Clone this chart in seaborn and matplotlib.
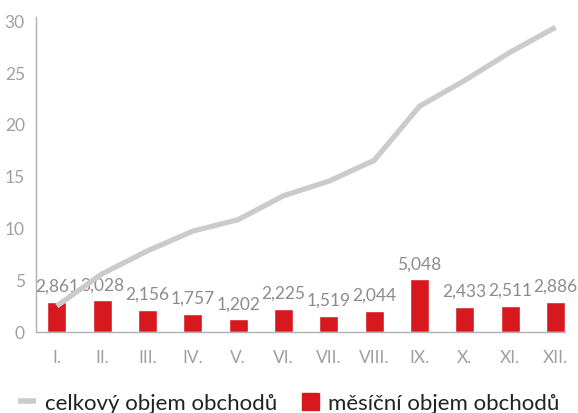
import matplotlib
matplotlib.use('Agg')
import matplotlib.pyplot as plt
import seaborn as sns
import pandas as pd
from matplotlib.lines import Line2D
from matplotlib.patches import Patch

# monthly and cumulative trade volume
months = ['I.', 'II.', 'III.', 'IV.', 'V.', 'VI.', 'VII.', 'VIII.', 'IX.', 'X.', 'XI.', 'XII.']
monthly = [2.861, 3.028, 2.156, 1.757, 1.202, 2.225, 1.519, 2.044, 5.048, 2.433, 2.511, 2.886]
cumulative = [2.5, 5.6, 7.8, 9.7, 10.8, 13.1, 14.5, 16.5, 21.7, 24.2, 26.9, 29.3]
yticks = [0, 5, 10, 15, 20, 25, 30]

RED = '#d7191f'
LINE_GRAY = '#cbcbcb'
TICK_GRAY = '#a0a0a0'
LABEL_GRAY = '#8c8c8c'

sns.set_style('white')
plt.rcParams['font.family'] = ['Lato', 'DejaVu Sans']

df = pd.DataFrame({'month': months, 'monthly': monthly, 'cumulative': cumulative})

fig = plt.figure(figsize=(5.78, 4.14), dpi=100)
ax = fig.add_axes([0.0623, 0.1957, 0.9152, 0.7611])

sns.barplot(data=df, x='month', y='monthly', color=RED, width=0.42,
            saturation=1, ax=ax, zorder=2)
labels = [f"{v:.3f}".replace('.', ',') for v in monthly]
ax.bar_label(ax.containers[0], labels=labels, padding=6, fontsize=12.5,
             color=LABEL_GRAY)

sns.lineplot(data=df, x='month', y='cumulative', color=LINE_GRAY, linewidth=3.8,
             sort=False, ax=ax, zorder=3)
for ln in ax.lines:
    ln.set_solid_capstyle('butt')
    ln.set_solid_joinstyle('miter')

ax.set_xlim(-0.46, 11.21)
ax.set_ylim(0, 30.3)
ax.set_yticks(yticks)
ax.set_xlabel('')
ax.set_ylabel('')
ax.tick_params(axis='both', length=0, labelsize=12.5, colors=TICK_GRAY)
ax.tick_params(axis='x', pad=12)
ax.tick_params(axis='y', pad=8)

for side in ['top', 'right']:
    ax.spines[side].set_visible(False)
for side in ['left', 'bottom']:
    ax.spines[side].set_color('#b0b0b0')
    ax.spines[side].set_linewidth(1.0)

handles = [Line2D([0], [0], color=LINE_GRAY, linewidth=4, solid_capstyle='butt'),
           Patch(facecolor=RED, edgecolor=RED)]
leg = fig.legend(handles, ['celkový objem obchodů', 'měsíční objem obchodů'],
                 loc='center', bbox_to_anchor=(0.5, 0.025), ncol=2, frameon=False,
                 fontsize=16, handlelength=0.8, handleheight=0.8, handletextpad=0.4,
                 columnspacing=1.1)
for t in leg.get_texts():
    t.set_color('#222222')

fig.savefig('out.png', dpi=100)
